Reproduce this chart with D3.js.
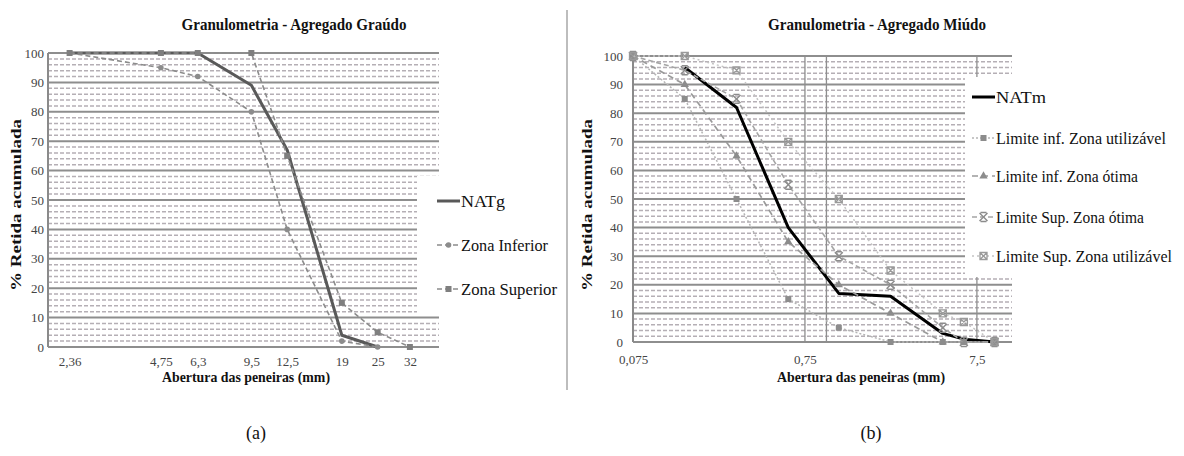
<!DOCTYPE html>
<html>
<head>
<meta charset="utf-8">
<script src="https://cdn.jsdelivr.net/npm/d3@7"></script>
<style>
  body { margin: 0; background: #fff; }
  svg text { font-family: "Liberation Serif", "DejaVu Serif", "Times New Roman", Times, serif !important; }
</style>
</head>
<body>
<svg id="fig" width="1184" height="456" font-family="Liberation Serif, DejaVu Serif, serif"></svg>
<script>
// (a) agregado graudo - peneiras em mm, % retida acumulada
const sievesG = [2.36, 4.75, 6.3, 9.5, 12.5, 19, 25, 32];
const natg = [100, 100, 100, 89, 67, 4, 0, null];
const zonaInferior = [100, 95, 92, 80, 40, 2, 0, null];
const zonaSuperior = [100, 100, 100, 100, 65, 15, 5, 0];
const xLabelsG = ["2,36", "4,75", "6,3", "9,5", "12,5", "19", "25", "32"];

// (b) agregado miudo
const sievesM = [0.075, 0.15, 0.3, 0.6, 1.18, 2.36, 4.75, 6.3, 9.5];
const natm = [null, 96, 82, 40, 17, 16, 3, 1, 0];
const limInfUtil = [100, 85, 50, 15, 5, 0, 0, 0, 0];
const limInfOtima = [100, 90, 65, 35, 20, 10, 0, 0, 0];
const limSupOtima = [100, 95, 85, 55, 30, 20, 5, 0, 0];
const limSupUtil = [100, 100, 95, 70, 50, 25, 10, 7, 0];
const xTicksM = [0.075, 0.75, 7.5];
const xLabelsM = ["0,075", "0,75", "7,5"];
const vGridM = [0.75, 1, 7.5];

const yTicks = [0, 10, 20, 30, 40, 50, 60, 70, 80, 90, 100];

const svg = d3.select("#fig");

function pts(xs, ys) {
  return xs.map((x, i) => ({x: x, y: ys[i]})).filter(d => d.y != null);
}

function marker(g, kind, cx, cy, col) {
  if (kind == "square") {
    g.append("rect").attr("x", cx - 3).attr("y", cy - 3).attr("width", 6).attr("height", 6).attr("fill", col);
  } else if (kind == "circle") {
    g.append("circle").attr("cx", cx).attr("cy", cy).attr("r", 2.8).attr("fill", col);
  } else if (kind == "triangle") {
    g.append("path").attr("transform", `translate(${cx},${cy})`)
      .attr("d", d3.symbol(d3.symbolTriangle, 30)()).attr("fill", col);
  } else if (kind == "x") {
    g.append("path").attr("transform", `translate(${cx},${cy})`)
      .attr("d", "M-4,-4L4,4M-4,4L4,-4M-3,-4.5H3M-3,4.5H3")
      .attr("stroke", col).attr("stroke-width", 1.4).attr("fill", "none");
  } else if (kind == "xbox") {
    g.append("path").attr("transform", `translate(${cx},${cy})`)
      .attr("d", "M-3.5,-3.5L3.5,3.5M-3.5,3.5L3.5,-3.5M-3.5,-3.5H3.5V3.5H-3.5Z")
      .attr("stroke", col).attr("stroke-width", 1.3).attr("fill", "none");
  }
}

function drawPanel(p) {
  const g = svg.append("g");
  const x = d3.scaleLog().domain(p.xDomain).range([p.left, p.right]);
  const y = d3.scaleLinear().domain([0, 100]).range([p.bottom, p.top]);

  // linhas de grade secundarias (a cada 2%)
  g.append("g").selectAll("line").data(y.ticks(50).filter(v => v % 10 != 0)).join("line")
    .attr("x1", p.left).attr("x2", p.right)
    .attr("y1", d => y(d)).attr("y2", d => y(d))
    .attr("stroke", "#b5afb5").attr("stroke-width", 1.5).attr("stroke-dasharray", "4,2");
  // grade principal
  g.append("g").selectAll("line").data(yTicks).join("line")
    .attr("x1", p.left).attr("x2", p.right)
    .attr("y1", d => y(d)).attr("y2", d => y(d))
    .attr("stroke", "#8e8e8e").attr("stroke-width", 2);
  if (p.vGrid) {
    g.append("g").selectAll("line").data(p.vGrid).join("line")
      .attr("x1", d => x(d)).attr("x2", d => x(d))
      .attr("y1", p.top).attr("y2", p.bottom)
      .attr("stroke", "#8e8e8e").attr("stroke-width", 1.3);
  }
  // eixo vertical
  g.append("line").attr("x1", p.left).attr("x2", p.left).attr("y1", p.top).attr("y2", p.bottom)
    .attr("stroke", "#8a8a8a").attr("stroke-width", 2);

  // caixa branca da legenda por cima da grade
  g.append("rect").attr("x", p.legBox[0]).attr("y", p.legBox[1])
    .attr("width", p.legBox[2]).attr("height", p.legBox[3]).attr("fill", "#fff");

  // eixos (rotulos)
  const ya = g.append("g").attr("transform", `translate(${p.left},0)`)
    .call(d3.axisLeft(y).tickValues(yTicks).tickSize(0).tickPadding(p.yPad));
  const xa = g.append("g").attr("transform", `translate(0,${p.bottom})`)
    .call(d3.axisBottom(x).tickValues(p.xTicks).tickSize(0).tickPadding(p.xPad)
      .tickFormat((d, i) => p.xLabels[i]));
  [ya, xa].forEach(a => {
    a.attr("font-family", null).attr("font-size", null);
    a.select(".domain").remove();
    a.selectAll("text").attr("font-size", 13).attr("fill", "#444");
  });

  // series
  const line = d3.line().x(d => x(d.x)).y(d => y(d.y));
  p.series.forEach(s => {
    const data = pts(s.xs, s.ys);
    g.append("path").datum(data).attr("d", line).attr("fill", "none")
      .attr("stroke", s.color).attr("stroke-width", s.width)
      .attr("stroke-dasharray", s.dash || null).attr("stroke-linejoin", "round");
    if (s.marker) data.forEach(d => marker(g, s.marker, x(d.x), y(d.y), s.mcolor));
  });

  // legenda
  p.series.forEach((s, i) => {
    const ly = p.legY[i];
    g.append("line").attr("x1", p.legX).attr("x2", p.legX + 23).attr("y1", ly).attr("y2", ly)
      .attr("stroke", s.color).attr("stroke-width", s.width).attr("stroke-dasharray", s.dash || null);
    if (s.marker) marker(g, s.marker, p.legX + 11.5, ly, s.mcolor);
    g.append("text").attr("x", p.legX + 24).attr("y", ly + 5.5)
      .attr("font-size", 17).attr("fill", "#111")
      .attr("textLength", s.lw).attr("lengthAdjust", "spacingAndGlyphs")
      .text(s.name);
  });

  // titulos
  g.append("text").attr("x", p.titleX).attr("y", 30).attr("text-anchor", "middle")
    .attr("font-size", 16).attr("font-weight", "bold").attr("fill", "#111")
    .attr("textLength", p.titleW).attr("lengthAdjust", "spacingAndGlyphs").text(p.title);
  g.append("text").attr("x", p.xTitleX).attr("y", 382).attr("text-anchor", "middle")
    .attr("font-size", 15).attr("font-weight", "bold").attr("fill", "#111")
    .attr("textLength", 168).attr("lengthAdjust", "spacingAndGlyphs")
    .text("Abertura das peneiras (mm)");
  g.append("text").attr("transform", `translate(${p.yTitleX},205) rotate(-90)`)
    .attr("text-anchor", "middle").attr("font-size", 15).attr("font-weight", "bold").attr("fill", "#111")
    .attr("textLength", 172).attr("lengthAdjust", "spacingAndGlyphs")
    .text("% Retida acumulada");
  g.append("text").attr("x", p.capX).attr("y", 439).attr("text-anchor", "middle")
    .attr("font-size", 18).attr("fill", "#111").text(p.caption);
}

drawPanel({
  xDomain: [2, 40], left: 48, right: 439, top: 53, bottom: 347,
  xTicks: sievesG, xLabels: xLabelsG, yPad: 4, xPad: 10,
  legBox: [417, 176, 40, 139], legX: 437, legY: [201, 245, 289],
  title: "Granulometria - Agregado Graúdo", titleX: 294, titleW: 225,
  xTitleX: 246, yTitleX: 21, capX: 256, caption: "(a)",
  series: [
    {name: "NATg", xs: sievesG, ys: natg, color: "#595959", width: 3, lw: 44},
    {name: "Zona Inferior", xs: sievesG, ys: zonaInferior, color: "#8c8c8c", width: 1.6,
      dash: "5,3", marker: "circle", mcolor: "#8c8c8c", lw: 87},
    {name: "Zona Superior", xs: sievesG, ys: zonaSuperior, color: "#8c8c8c", width: 1.6,
      dash: "5,3", marker: "square", mcolor: "#7f7f7f", lw: 96}
  ]
});

drawPanel({
  xDomain: [0.075, 12], left: 633, right: 1012, top: 56, bottom: 342,
  xTicks: xTicksM, xLabels: xLabelsM, vGrid: vGridM, yPad: 10, xPad: 13,
  legBox: [965, 77, 47, 200], legX: 972, legY: [97, 138, 176, 217, 256],
  title: "Granulometria - Agregado Miúdo", titleX: 877, titleW: 218,
  xTitleX: 861, yTitleX: 592, capX: 871, caption: "(b)",
  series: [
    {name: "NATm", xs: sievesM, ys: natm, color: "#000", width: 3, lw: 50},
    {name: "Limite inf. Zona utilizável", xs: sievesM, ys: limInfUtil, color: "#b5b5b5", width: 1.5,
      dash: "2,2", marker: "square", mcolor: "#8c8c8c", lw: 170},
    {name: "Limite inf. Zona ótima", xs: sievesM, ys: limInfOtima, color: "#9a9a9a", width: 1.7,
      dash: "6,4", marker: "triangle", mcolor: "#8c8c8c", lw: 142},
    {name: "Limite Sup. Zona ótima", xs: sievesM, ys: limSupOtima, color: "#a5a5a5", width: 1.6,
      dash: "5,3", marker: "x", mcolor: "#8c8c8c", lw: 148},
    {name: "Limite Sup. Zona utilizável", xs: sievesM, ys: limSupUtil, color: "#c4c4c4", width: 1.5,
      dash: "2,3", marker: "xbox", mcolor: "#9a9a9a", lw: 176}
  ]
});

// divisoria entre os paineis
svg.append("line").attr("x1", 567).attr("x2", 567).attr("y1", 10).attr("y2", 390)
  .attr("stroke", "#bdbdbd").attr("stroke-width", 2);
</script>
</body>
</html>
